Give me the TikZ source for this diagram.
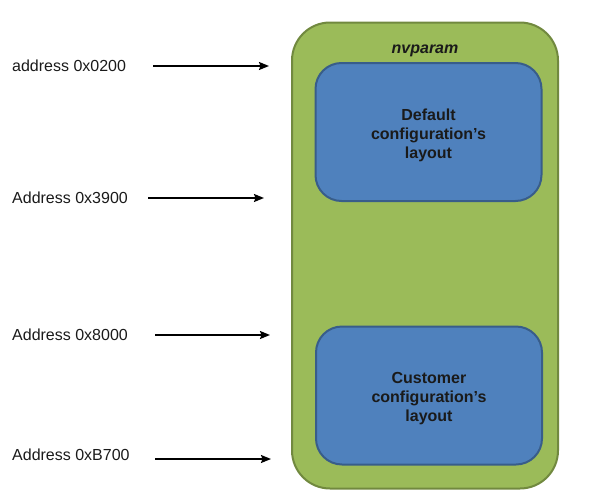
\documentclass[tikz,border=0pt]{standalone}
\usepackage{fontspec}
\setmainfont{Liberation Sans}
\usetikzlibrary{arrows.meta}
\definecolor{nvgreen}{HTML}{9BBB59}
\definecolor{nvgreenline}{HTML}{71893F}
\definecolor{nvblue}{HTML}{4F81BD}
\definecolor{nvblueline}{HTML}{385D8A}
\definecolor{nvtext}{HTML}{1A1A1A}
\begin{document}
\begin{tikzpicture}[x=1pt,y=-1pt,>={Stealth[length=10pt,width=8pt,inset=1.5pt]},
    addr/.style={anchor=west,inner sep=0pt,text=nvtext,font=\fontsize{16}{19}\selectfont},
    arr/.style={->,line width=1.6pt,black},
    region/.style={draw=nvgreenline,fill=nvgreen,line width=2pt,rounded corners=38pt,
      minimum width=266pt,minimum height=466pt,inner sep=0pt},
    layout/.style={draw=nvblueline,fill=nvblue,line width=2pt,rounded corners=26pt,
      minimum width=226pt,minimum height=138pt,inner sep=0pt,align=center,
      text=nvtext,font=\bfseries\fontsize{16}{19}\selectfont}]
    \useasboundingbox (0,0) rectangle (600,501);
    % flash region and its two layouts
    \node[region] (nv) at (425,255.5) {};
    \node[font=\bfseries\itshape\fontsize{16}{19}\selectfont,text=nvtext] (title) at (425,51) {nvparam};
    \node[layout] (def) at (428.5,132) {\\[-1pt]Default\\configuration’s\\layout};
    \node[layout] (cust) at (429,395.5) {\\[-1pt]Customer\\configuration’s\\layout};
    % addresses
    \node[addr] (a1) at (12,66) {address 0x0200};
    \node[addr] (a2) at (12,198) {Address 0x3900};
    \node[addr] (a3) at (12,335) {Address 0x8000};
    \node[addr] (a4) at (12,455) {Address 0xB700};
    \coordinate (s1) at (153,66);  \coordinate (t1) at (269,66);
    \coordinate (s2) at (148,198); \coordinate (t2) at (264,198);
    \coordinate (s3) at (155,335); \coordinate (t3) at (270,335);
    \coordinate (s4) at (155,459); \coordinate (t4) at (271,459);
    \draw[arr] (s1) -- (t1);
    \draw[arr] (s2) -- (t2);
    \draw[arr] (s3) -- (t3);
    \draw[arr] (s4) -- (t4);
\end{tikzpicture}
\end{document}
